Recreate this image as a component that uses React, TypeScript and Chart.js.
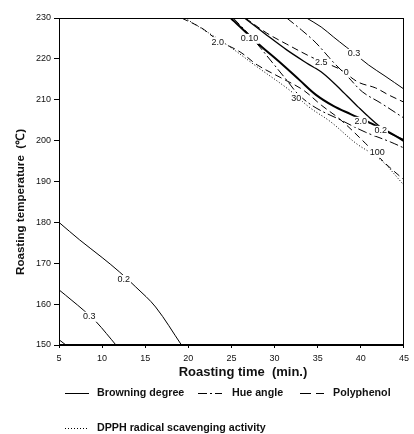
import React, { useEffect, useRef } from "react";
import { Chart, registerables } from "chart.js";
Chart.register(...registerables);

// ---- data (roasting time, min ; roasting temperature, °C) ----
const xMin = 5, xMax = 45, xStep = 5;
const yMin = 150, yMax = 230, yStep = 10;

// Browning degree contours (solid)
const brown02LowX = [5, 7.4, 10, 12, 13.9, 16.2, 19.2];
const brown02LowY = [180, 175.7, 171.4, 167.9, 164.2, 159.3, 150];
const brown03LowX = [5, 6.5, 7.8, 9.3, 10.5, 11.6];
const brown03LowY = [163.5, 160.9, 158.6, 155.7, 152.8, 150];
const brown04LowX = [5, 5.8];
const brown04LowY = [151.3, 150];
const brownThickX = [24.9, 28.0, 30.8, 32.9, 34.8, 36.8, 38.8, 41.1, 43.4, 45];
const brownThickY = [230, 223.9, 218.8, 214.8, 211.2, 208.5, 206.5, 204.3, 201.9, 199.9];
const brownMidX = [26.5, 29.1, 31.4, 33.7, 35.6, 37.7, 39.7, 41.7, 43.1, 45];
const brownMidY = [230, 225.8, 222.2, 219.0, 216.5, 212.4, 208.2, 204.3, 202.1, 200.2];
const brown03HighX = [33.7, 35.4, 36.8, 38.3, 39.2, 40.9, 42.8, 45];
const brown03HighY = [230, 227.8, 225.4, 222.9, 221.4, 218.5, 215.8, 212.6];

// Hue angle contours (dash-dot)
const hueLowX = [25.2, 27.4, 29.7, 31.4, 32.8, 34.8, 37.7, 40.5, 43.4, 45];
const hueLowY = [230, 225.1, 219.2, 214.8, 211.2, 208.0, 205.0, 202.1, 199.7, 198.2];
const hueHighX = [31.4, 33.1, 34.8, 36.8, 38.5, 40.2, 42.3, 45];
const hueHighY = [230, 227.1, 223.9, 219.2, 215.6, 211.9, 209.2, 205.5];

// Polyphenol contours (dashed)
const poly20X = [19.2, 21.5, 23.4, 26.0, 28.0, 30.8, 33.3, 35.4, 37.7, 40.5, 42.8, 45];
const poly20Y = [230, 227.6, 224.6, 221.7, 218.5, 215.3, 212.4, 208.7, 205.0, 199.4, 194.5, 190.4];
const poly25X = [26.6, 29.1, 31.4, 34.5, 36.5, 37.7, 39.7, 41.7, 43.2, 45];
const poly25Y = [230, 226.3, 223.6, 220.2, 218.5, 217.3, 214.3, 212.9, 211.2, 209.4];

// DPPH radical scavenging activity contour (dotted)
const dpphX = [19.6, 24.5, 28.0, 31.7, 34.0, 36.5, 39.4, 42.3, 45];
const dpphY = [230, 223.4, 218.0, 212.4, 208.2, 204.6, 199.4, 195.3, 189.1];

// contour labels
const labelText = ["0.2", "0.3", "2.0", "0.10", "2.5", "0", "0.3", "30", "2.0", "0.2", "100"];
const labelX = [12.5, 8.5, 23.4, 27.1, 35.4, 38.3, 39.2, 32.5, 40.0, 42.3, 41.9];
const labelY = [165.9, 156.9, 224.1, 224.9, 219.2, 216.6, 221.2, 210.4, 204.6, 202.4, 197.0];

const legendNames = ["Browning degree", "Hue angle", "Polyphenol", "DPPH radical scavenging activity"];
const xTitle = "Roasting time  (min.)";
const yTitle = "Roasting temperature  (\u2103)";

const FONT = "'Liberation Sans', Arial, sans-serif";
const SOLID: number[] = [];
const DASH = [7, 4];
const DASHDOT = [9, 3, 2, 3];
const DOT = [1, 2];

const pts = (xs: number[], ys: number[]) => xs.map((x, i) => ({ x, y: ys[i] }));

const series = [
  { d: pts(brown02LowX, brown02LowY), dash: SOLID, w: 1 },
  { d: pts(brown03LowX, brown03LowY), dash: SOLID, w: 1 },
  { d: pts(brown04LowX, brown04LowY), dash: SOLID, w: 1 },
  { d: pts(brownThickX, brownThickY), dash: SOLID, w: 2 },
  { d: pts(brownMidX, brownMidY), dash: SOLID, w: 1.3 },
  { d: pts(brown03HighX, brown03HighY), dash: SOLID, w: 1 },
  { d: pts(hueLowX, hueLowY), dash: DASHDOT, w: 1 },
  { d: pts(hueHighX, hueHighY), dash: DASHDOT, w: 1 },
  { d: pts(poly20X, poly20Y), dash: DASH, w: 1 },
  { d: pts(poly25X, poly25Y), dash: DASH, w: 1 },
  { d: pts(dpphX, dpphY), dash: DOT, w: 1 },
];

const decor = {
  id: "decor",
  afterDatasetsDraw(chart: any) {
    const { ctx, chartArea: a, scales } = chart;
    const xs = scales.x, ys = scales.y;
    ctx.save();
    // frame
    ctx.strokeStyle = "#000";
    ctx.lineWidth = 1;
    ctx.setLineDash([]);
    ctx.strokeRect(a.left + 0.5, a.top + 0.5, a.right - a.left - 1, a.bottom - a.top - 1);
    // contour labels
    ctx.font = `9px ${FONT}`;
    ctx.textAlign = "center";
    ctx.textBaseline = "middle";
    labelText.forEach((t, i) => {
      const px = xs.getPixelForValue(labelX[i]);
      const py = ys.getPixelForValue(labelY[i]);
      const w = ctx.measureText(t).width;
      ctx.fillStyle = "#fff";
      ctx.fillRect(px - w / 2 - 1, py - 5, w + 2, 10);
      ctx.fillStyle = "#111";
      ctx.fillText(t, px, py);
    });
    // axis titles
    ctx.font = `bold 13px ${FONT}`;
    ctx.fillText(xTitle, 243, 372);
    ctx.save();
    ctx.translate(21, 202);
    ctx.rotate(-Math.PI / 2);
    ctx.font = `bold 11.6px ${FONT}`;
    ctx.fillText(yTitle, 0, 0);
    ctx.restore();
    // legend
    const items = [
      { x: 65, y: 393, dash: SOLID, tx: 97 },
      { x: 198, y: 393, dash: DASHDOT, tx: 232 },
      { x: 300, y: 393, dash: [11, 5], tx: 333 },
      { x: 65, y: 428, dash: DOT, tx: 97 },
    ];
    ctx.font = `bold 10.7px ${FONT}`;
    ctx.textAlign = "left";
    items.forEach((it, i) => {
      ctx.strokeStyle = "#000";
      ctx.lineWidth = 1;
      ctx.setLineDash(it.dash);
      ctx.beginPath();
      ctx.moveTo(it.x, it.y + 0.5);
      ctx.lineTo(it.x + 24, it.y + 0.5);
      ctx.stroke();
      ctx.setLineDash([]);
      ctx.fillStyle = "#111";
      ctx.fillText(legendNames[i], it.tx, it.y);
    });
    ctx.restore();
  },
};

export default function App() {
  const ref = useRef<HTMLCanvasElement>(null);
  useEffect(() => {
    if (!ref.current) return;
    const chart = new Chart(ref.current, {
      type: "line",
      data: {
        datasets: series.map((s) => ({
          data: s.d,
          borderColor: "#000",
          borderWidth: s.w,
          borderDash: s.dash,
          pointRadius: 0,
          fill: false,
          tension: 0.35,
        })),
      },
      options: {
        animation: false,
        responsive: false,
        devicePixelRatio: 1,
        layout: { padding: { left: 0, right: 4, top: 18, bottom: 0 } },
        plugins: { legend: { display: false }, tooltip: { enabled: false } },
        scales: {
          x: {
            type: "linear",
            min: xMin,
            max: xMax,
            afterFit(s: any) { s.height = 89; },
            ticks: { stepSize: xStep, autoSkip: false, maxRotation: 0, padding: 5, color: "#111", font: { family: FONT, size: 9 } },
            grid: { drawOnChartArea: false, tickLength: 3, color: "#000" },
            border: { color: "#000" },
          },
          y: {
            type: "linear",
            min: yMin,
            max: yMax,
            afterFit(s: any) { s.width = 59; },
            ticks: { stepSize: yStep, autoSkip: false, padding: 3, color: "#111", font: { family: FONT, size: 9 } },
            grid: { drawOnChartArea: false, tickLength: 5, color: "#000" },
            border: { color: "#000" },
          },
        },
      },
      plugins: [decor],
    });
    return () => chart.destroy();
  }, []);
  return (
    <canvas
      ref={ref}
      width={414}
      height={434}
      style={{ position: "fixed", left: 0, top: 0, width: 414, height: 434, background: "#fff" }}
    />
  );
}
